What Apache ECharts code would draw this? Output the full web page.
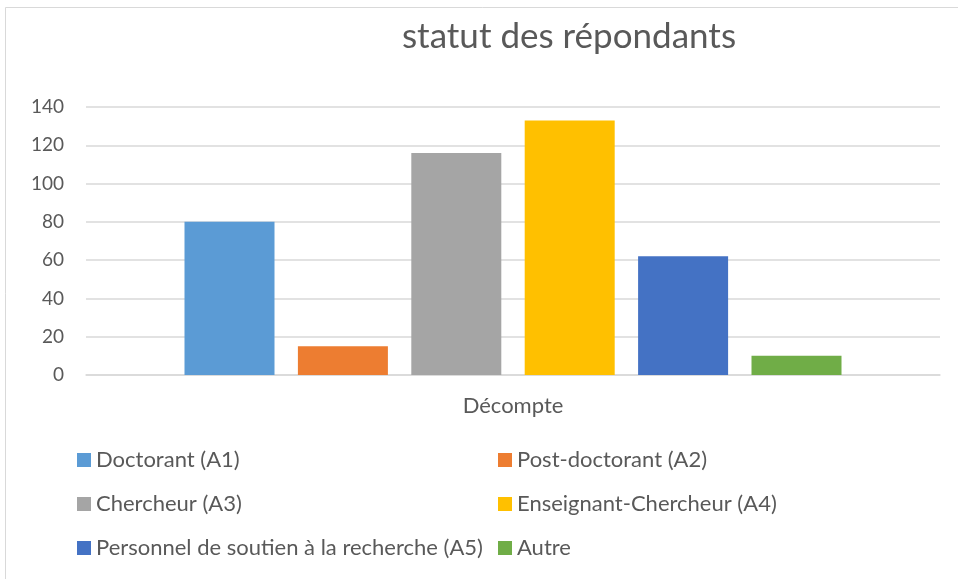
<!DOCTYPE html>
<html>
<head>
<meta charset="utf-8">
<script src="https://cdn.jsdelivr.net/npm/echarts@6/dist/echarts.min.js"></script>
<style>html,body{margin:0;padding:0;background:#fff;}#c{width:958px;height:579px;}</style>
</head>
<body>
<div id="c"></div>
<script>
const titleText = 'statut des répondants';
const categories = ['Décompte'];
const seriesNames = ['Doctorant (A1)', 'Post-doctorant (A2)', 'Chercheur (A3)', 'Enseignant-Chercheur (A4)', 'Personnel de soutien à la recherche (A5)', 'Autre'];
const seriesValues = [80, 15, 116, 133, 62, 10];
const seriesColors = ['#5B9BD5', '#ED7D31', '#A5A5A5', '#FFC000', '#4472C4', '#70AD47'];
const yTicks = [0, 20, 40, 60, 80, 100, 120, 140];

const FONT = 'Lato, "Open Sans", sans-serif';
const chart = echarts.init(document.getElementById('c'), null, {renderer: 'canvas'});

const series = seriesNames.map((n, i) => ({
  name: n,
  type: 'bar',
  data: [seriesValues[i]],
  barWidth: 90,
  barGap: '26%',
  itemStyle: {color: seriesColors[i]},
  emphasis: {disabled: true}
}));

const legendCommon = {
  orient: 'vertical',
  icon: 'rect',
  itemWidth: 14,
  itemHeight: 14,
  itemGap: 22,
  itemTextGap: 6,
  padding: 0,
  selectedMode: false,
  textStyle: {fontFamily: FONT, fontSize: 22, color: '#595959', lineHeight: 22}
};

chart.setOption({
  animation: false,
  backgroundColor: '#fff',
  graphic: [
    {type: 'rect', shape: {x: 5.5, y: 7.5, width: 1200, height: 1200}, style: {fill: 'none', stroke: '#d9d9d9', lineWidth: 1}, silent: true},
    {type: 'text', x: 569, y: 37, style: {text: titleText, font: '35px ' + FONT, fill: '#595959', textAlign: 'center', textVerticalAlign: 'middle'}, silent: true}
  ],
  grid: {left: 86, right: 18, top: 107, bottom: 204, containLabel: false},
  legend: [
    Object.assign({}, legendCommon, {left: 77, top: 449, data: [seriesNames[0], seriesNames[2], seriesNames[4]]}),
    Object.assign({}, legendCommon, {left: 498, top: 449, data: [seriesNames[1], seriesNames[3], seriesNames[5]]})
  ],
  xAxis: {
    type: 'category',
    data: categories,
    axisLine: {show: true, lineStyle: {color: '#d9d9d9', width: 1.5}},
    axisTick: {show: false},
    axisLabel: {fontFamily: FONT, fontSize: 22, color: '#595959', margin: 20}
  },
  yAxis: {
    type: 'value',
    min: yTicks[0],
    max: yTicks[yTicks.length - 1],
    interval: yTicks[1] - yTicks[0],
    axisLine: {show: false},
    axisTick: {show: false},
    splitLine: {lineStyle: {color: '#d9d9d9', width: 1.5}},
    axisLabel: {fontFamily: FONT, fontSize: 19, color: '#595959', margin: 22}
  },
  series: series
});
</script>
</body>
</html>
